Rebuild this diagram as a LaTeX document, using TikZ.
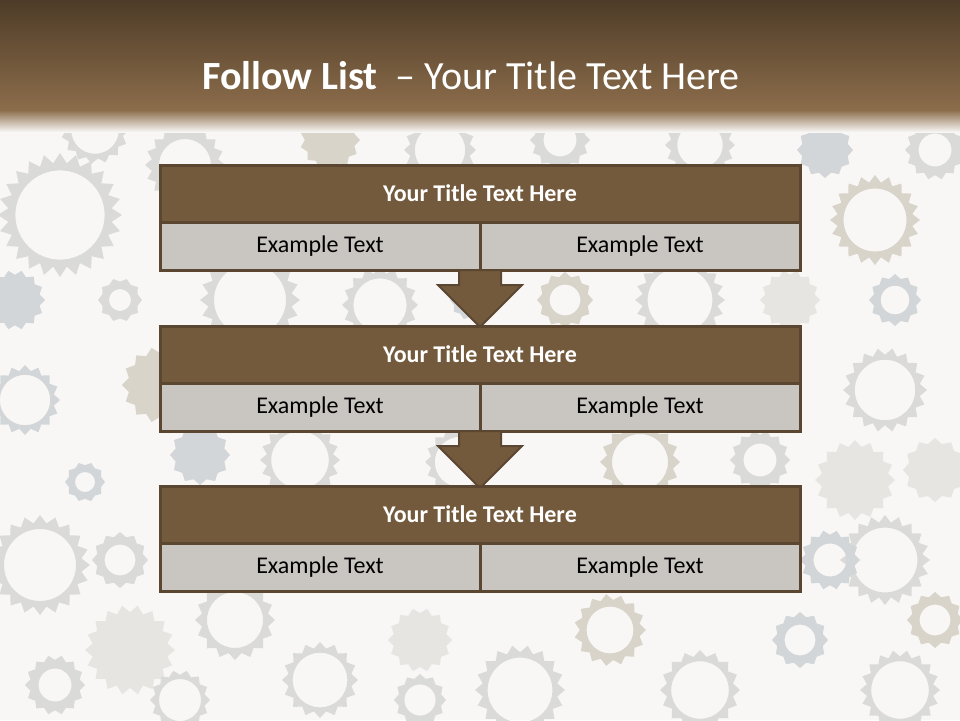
\documentclass[tikz,border=0pt]{standalone}
\usepackage{fontspec}
\setmainfont{Carlito}
\usepackage{tikz}
\usetikzlibrary{positioning, shapes.arrows}
\definecolor{hdrtop}{HTML}{4E3C28}
\definecolor{hdrbot}{HTML}{8C6D4B}
\definecolor{bgcol}{HTML}{F8F7F5}
\definecolor{edge}{HTML}{5B4631}
\definecolor{barfill}{HTML}{735A3D}
\definecolor{cellfill}{HTML}{C9C5C0}
\definecolor{gearA}{HTML}{DADAD8}
\definecolor{gearB}{HTML}{D8D4CA}
\definecolor{gearC}{HTML}{D3D6D8}
\definecolor{gearD}{HTML}{E6E5E2}
\tikzset{
  titlebar/.style = {draw=edge, line width=3pt, fill=barfill, minimum width=640pt,
                     minimum height=57pt, text=white, inner sep=0pt, outer sep=0pt,
                     font=\fontsize{24}{28}\selectfont\bfseries},
  cellbox/.style  = {draw=edge, line width=3pt, fill=cellfill, minimum width=320pt,
                     minimum height=48pt, inner sep=0pt, outer sep=0pt,
                     font=\fontsize{24}{28}\selectfont},
  downarr/.style  = {single arrow, draw=edge, line width=2pt, fill=barfill,
                     minimum height=57pt, inner xsep=0pt, inner ysep=20pt,
                     outer sep=0pt, single arrow head extend=21pt, rotate=-90}
}

\begin{document}
\begin{tikzpicture}[x=1pt, y=-1pt]
  \useasboundingbox (0,0) rectangle (960,720);
  \fill[bgcol] (0,0) rectangle (960,720);
  % gear pattern in the background
  \foreach \gx/\gy/\gr/\gv/\gh/\gc in {
      60/215/62/48/0.72/gearA, 185/165/40/36/0.65/gearA, 120/300/22/20/0.5/gearA,
      160/385/38/28/0/gearB, 85/482/20/20/0.5/gearC, 25/400/35/32/0.72/gearC,
      40/565/50/40/0.72/gearA, 130/650/45/36/0/gearD, 235/620/40/32/0.7/gearA,
      55/685/30/28/0.55/gearA, 320/680/38/32/0.72/gearA, 420/640/32/28/0/gearD,
      520/690/45/36/0.72/gearA, 610/630/36/30/0.65/gearB, 700/690/40/32/0.72/gearA,
      800/640/28/24/0.55/gearC, 900/690/40/36/0.72/gearA, 885/560/45/40/0.72/gearA,
      935/470/32/24/0/gearD, 855/480/40/32/0/gearD, 885/390/42/36/0.72/gearA,
      895/300/26/24/0.55/gearC, 875/220/45/40/0.7/gearB, 935/150/30/28/0.55/gearA,
      825/150/28/24/0/gearC, 700/145/35/32/0.65/gearA, 560/140/30/28/0.55/gearA,
      330/140/30/26/0/gearB, 250/300/50/40/0.72/gearA, 380/305/38/32/0.7/gearA,
      565/300/28/24/0.55/gearB, 680/300/45/40/0.72/gearA, 460/462/35/32/0.72/gearA,
      300/460/40/36/0.72/gearA, 640/462/40/32/0.7/gearB, 200/455/30/24/0/gearC,
      760/460/30/28/0.55/gearA, 120/560/28/24/0.55/gearA, 15/300/30/28/0/gearC,
      440/150/36/32/0.7/gearA, 95/130/34/30/0.7/gearA, 790/300/30/28/0/gearD,
      935/620/28/24/0.55/gearB, 180/700/30/28/0.7/gearA,
      470/300/20/20/0.55/gearC, 830/560/30/28/0.55/gearC, 420/700/26/24/0.6/gearA}{
    \begin{scope}[shift={(\gx,\gy)}]
      \fill[\gc, even odd rule] (0:\gr)
        \foreach \k in {1,...,\gv}{ -- ({\k/\gv*360}:{\gr*(1-0.16*mod(\k,2))}) } -- cycle
        \ifdim\gh pt>0pt (0,0) circle[radius=\gh*\gr] \fi;
    \end{scope}
  }
  % header band
  \shade[top color=hdrtop, bottom color=hdrbot] (0,0) rectangle (960,110);
  \shade[top color=hdrbot, bottom color=bgcol] (0,110) rectangle (960,132);
  \node[text=white, font=\fontsize{40}{46}\selectfont] (hdr) at (471,76)
    {\textbf{Follow List}\ \ \textendash\ Your Title Text Here};
  % first block
  \node[titlebar] (t1) at (480,193.5) {Your Title Text Here};
  \node[cellbox, anchor=north west] (a1) at (t1.south west) {Example Text};
  \node[cellbox, right=0pt of a1] (b1) {Example Text};
  \node[downarr, anchor=tail] (ar1) at (a1.south east) {};
  % second block
  \node[titlebar, below=56pt of a1.south east] (t2) {Your Title Text Here};
  \node[cellbox, anchor=north west] (a2) at (t2.south west) {Example Text};
  \node[cellbox, right=0pt of a2] (b2) {Example Text};
  \node[downarr, anchor=tail] (ar2) at (a2.south east) {};
  % third block
  \node[titlebar, below=55pt of a2.south east] (t3) {Your Title Text Here};
  \node[cellbox, anchor=north west] (a3) at (t3.south west) {Example Text};
  \node[cellbox, right=0pt of a3] (b3) {Example Text};
\end{tikzpicture}
\end{document}
